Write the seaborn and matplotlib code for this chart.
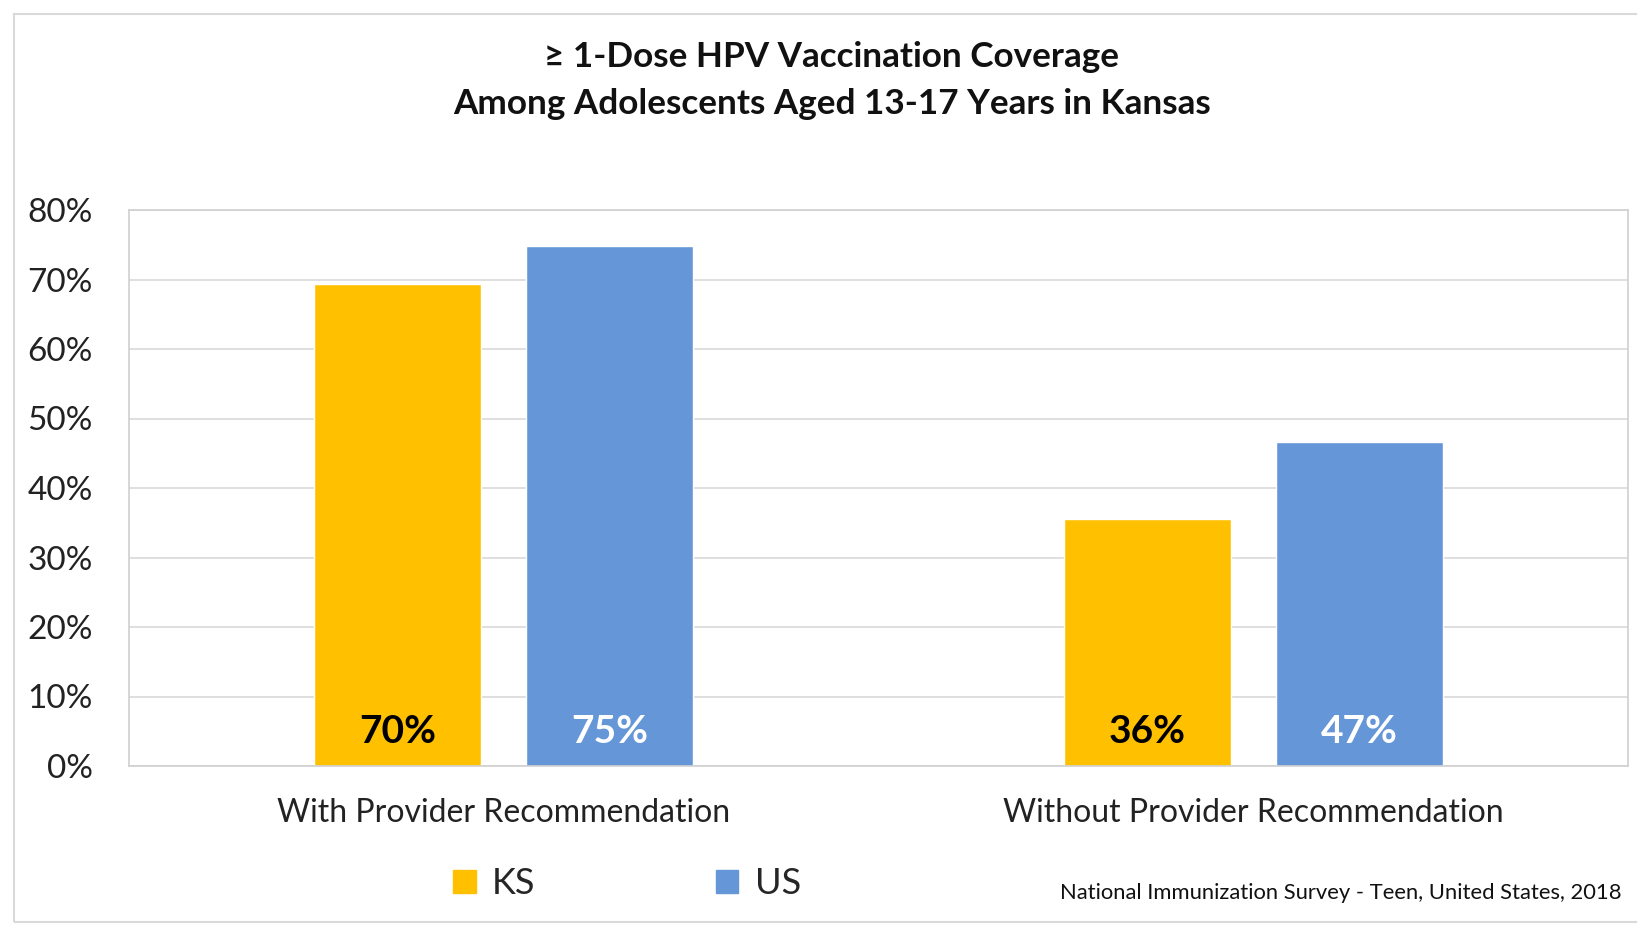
import matplotlib
matplotlib.use("Agg")
import matplotlib.pyplot as plt
import seaborn as sns
import pandas as pd
from matplotlib.patches import Rectangle

categories = ["With Provider Recommendation", "Without Provider Recommendation"]
series = ["KS", "US"]
ks_values = [69.4, 35.6]
us_values = [74.8, 46.6]
value_labels = {"KS": ["70%", "36%"], "US": ["75%", "47%"]}
yticks = [0, 10, 20, 30, 40, 50, 60, 70, 80]
ytick_labels = ["0%", "10%", "20%", "30%", "40%", "50%", "60%", "70%", "80%"]
colors = {"KS": "#FFC000", "US": "#6597D8"}
title = "\u2265 1-Dose HPV Vaccination Coverage\nAmong Adolescents Aged 13-17 Years in Kansas"
source = "National Immunization Survey - Teen, United States, 2018"

df = pd.DataFrame({
    "category": categories * 2,
    "series": ["KS"] * 2 + ["US"] * 2,
    "value": ks_values + us_values,
})

sns.set_theme(style="white")
plt.rcParams["font.family"] = ["Lato", "DejaVu Sans"]

fig = plt.figure(figsize=(16.37, 9.25), dpi=100)
ax = fig.add_axes([129 / 1637, 1 - 766 / 925, (1628 - 129) / 1637, (766 - 210) / 925])

sns.barplot(data=df, x="category", y="value", hue="series", palette=colors,
            width=0.5655, gap=0.212, ax=ax, legend=False, saturation=1)

ax.set_xlim(-0.5, 1.5)
ax.set_ylim(0, 80)
ax.set_yticks(yticks)
ax.set_yticklabels(ytick_labels, fontsize=24)
ax.yaxis.grid(True, color="#D9D9D9", linewidth=1.2)
ax.set_axisbelow(True)
for s in ax.spines.values():
    s.set_color("#D0D0D0")
    s.set_linewidth(1.2)
ax.set_xlabel("")
ax.set_ylabel("")
ax.tick_params(axis="x", labelsize=23, pad=23, length=0, labelcolor="#222222")
ax.tick_params(axis="y", pad=26, length=0, labelcolor="#222222")

for container, name in zip(ax.containers, series):
    txtcolor = "black" if name == "KS" else "white"
    for bar, lbl in zip(container, value_labels[name]):
        ax.text(bar.get_x() + bar.get_width() / 2, 5.0, lbl, ha="center", va="center",
                fontsize=28, fontweight="bold", color=txtcolor)

fig.text(0.508, 0.913, title, ha="center", va="center", fontsize=25.3,
         fontweight="bold", linespacing=1.6, color="#111111")

# legend
handles = [Rectangle((0, 0), 1, 1, color=colors[s]) for s in series]
fig.legend(handles, series, loc="center", bbox_to_anchor=(0.383, 1 - 884 / 925),
           ncol=2, frameon=False, fontsize=26, handlelength=0.62, handleheight=0.62,
           handletextpad=0.45, columnspacing=5.0)

fig.text(1622 / 1637, 1 - 893 / 925, source, ha="right", va="center", fontsize=15.8,
         color="#111111")

# chart frame
fig.patches.append(Rectangle((14 / 1637, 1 - 922 / 925), 1 - 14 / 1637 + 0.01, (922 - 14) / 925,
                             transform=fig.transFigure, fill=False, edgecolor="#D9D9D9",
                             linewidth=1.5))

fig.savefig("out.png", dpi=100, facecolor="white")
